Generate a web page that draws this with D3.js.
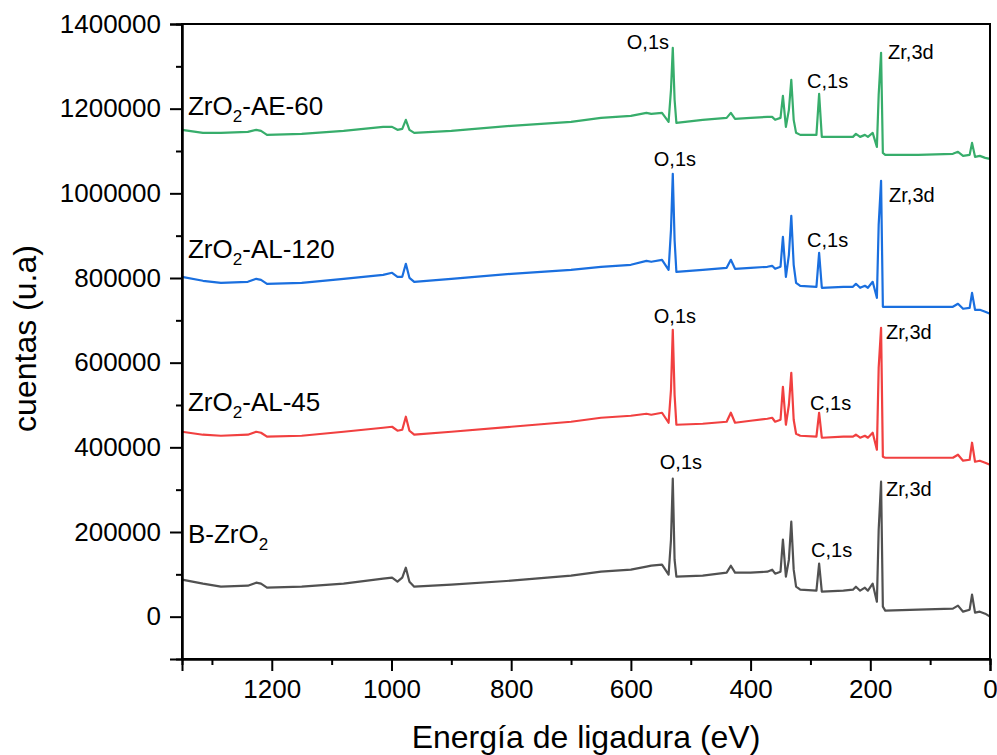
<!DOCTYPE html>
<html>
<head>
<meta charset="utf-8">
<script src="https://cdn.jsdelivr.net/npm/d3@7"></script>
<style>
  html, body { margin: 0; padding: 0; background: #fff; }
  svg { display: block; font-family: "Liberation Sans", Arial, sans-serif; }
</style>
</head>
<body>
<svg id="chart" width="997" height="755"></svg>
<script>
// Binding energy grid (eV) shared by all survey spectra
const energy = [1350, 1315, 1285, 1240, 1226, 1218, 1208, 1150, 1080, 1014, 999, 990, 982, 976, 970, 962,
  900, 800, 700, 650, 600, 574, 566, 548, 537, 533, 530, 527, 524, 480, 440, 433, 426, 400, 372, 364,
  359, 350, 346, 341, 336, 332, 328, 324, 317, 290, 285.5, 281, 245, 229, 224, 217, 209, 204, 196, 189,
  186, 182, 179, 175, 120, 62, 53.5, 45, 34, 30, 25, 17, 8, 0];

// Counts for each sample
const countsB = [87400, 77900, 70800, 73200, 80300, 77900, 68500, 70800, 77900, 89700, 92100, 82600, 92100, 115700, 82600, 70800,
  75600, 85000, 96800, 106300, 111000, 118100, 120400, 122800, 99200, 181800, 325900, 134600, 94500, 96800, 103900, 120400, 103900, 103900, 106300, 111000,
  101500, 106300, 181800, 94500, 134600, 224300, 111000, 70800, 63800, 61400, 125100, 59000, 61400, 63800, 70800, 61400, 68500, 61400, 77900, 35400,
  205400, 318800, 23600, 14200, 16500, 18900, 26000, 11800, 16500, 51900, 9400, 11800, 7100, 0];

const countsAL45 = [436800, 429800, 427400, 429800, 436800, 434500, 425100, 427400, 436800, 446300, 448600, 439200, 441600, 472300, 439200, 429800,
  436800, 448600, 460500, 469900, 474600, 479300, 477000, 481700, 458100, 536000, 677700, 524200, 453400, 455700, 460500, 481700, 458100, 462800, 467500, 469900,
  460500, 465200, 543100, 453400, 500600, 576200, 465200, 432100, 427400, 425100, 481700, 422700, 425100, 425100, 429800, 422700, 427400, 422700, 434500, 394300,
  588000, 682400, 377800, 375400, 375400, 375400, 382500, 368400, 370700, 410900, 366000, 368400, 363600, 358900];

const countsAL120 = [802800, 793400, 788700, 791000, 798100, 795700, 786300, 788700, 798100, 807500, 812300, 802800, 802800, 833500, 800500, 791000,
  798100, 809900, 819400, 826500, 831200, 840600, 838300, 843000, 819400, 913800, 1046000, 890200, 814600, 819400, 824100, 843000, 821700, 824100, 826500, 828800,
  821700, 826500, 897300, 802800, 854800, 946900, 831200, 788700, 781600, 779200, 859500, 776900, 779200, 779200, 786300, 776900, 781600, 776900, 791000, 753200,
  925600, 1029500, 732000, 732000, 732000, 732000, 739100, 727300, 729600, 765000, 724900, 724900, 720200, 715500];

const countsAE60 = [1150000, 1142900, 1142900, 1145200, 1150000, 1147600, 1138100, 1140500, 1147600, 1157000, 1157000, 1150000, 1152300, 1173600, 1150000, 1142900,
  1147600, 1159400, 1168800, 1178300, 1183000, 1190100, 1187700, 1190100, 1168800, 1244400, 1343600, 1221700, 1166500, 1173600, 1178300, 1190100, 1175900, 1178300, 1180600, 1180600,
  1173600, 1178300, 1230200, 1157000, 1197200, 1268000, 1173600, 1142900, 1138100, 1138100, 1235000, 1133400, 1133400, 1133400, 1140500, 1133400, 1138100, 1133400, 1142900, 1109800,
  1232600, 1331800, 1095600, 1090900, 1090900, 1093300, 1098000, 1088500, 1090900, 1119200, 1086200, 1088500, 1083800, 1081400];

// Tick values
const xMajorTicks = [1200, 1000, 800, 600, 400, 200, 0];
const xMinorTicks = [1300, 1100, 900, 700, 500, 300, 100];
const yMajorTicks = [0, 200000, 400000, 600000, 800000, 1000000, 1200000, 1400000];
const yMinorTicks = [100000, 300000, 500000, 700000, 900000, 1100000, 1300000];

// Sample names, colours and where their name label sits (eV, counts)
const samples = [
  { name: "B-ZrO", sub: "2", suffix: "",       values: countsB,     color: "#515151", labelAt: [1340, 174700] },
  { name: "ZrO",   sub: "2", suffix: "-AL-45",  values: countsAL45,  color: "#F14040", labelAt: [1340, 486400] },
  { name: "ZrO",   sub: "2", suffix: "-AL-120", values: countsAL120, color: "#1A6FDF", labelAt: [1340, 847700] },
  { name: "ZrO",   sub: "2", suffix: "-AE-60",  values: countsAE60,  color: "#37AD6B", labelAt: [1340, 1185400] }
];

// Peak annotations: peak energy and text offset (px) from the peak top, per sample
const peakNames = ["O,1s", "C,1s", "Zr,3d"];
const peakEnergies = [530, 285.5, 182];
const peakOffsets = [
  [[-13, -10], [-8, -7], [5, 14]],
  [[-19, -7], [-9, -3], [5, 11]],
  [[-19, -8], [-12, -6], [8, 21]],
  [[-46, 1], [-12, -6], [7, 6]]
];

const svg = d3.select("#chart");
const margin = { left: 182, right: 7, top: 24, bottom: 96 };
const W = 997, H = 755;

const x = d3.scaleLinear().domain([1350, 0]).range([margin.left, W - margin.right]);
const y = d3.scaleLinear().domain([-100000, 1400000]).range([H - margin.bottom, margin.top]);

const tickFont = 26;

// Spectra
const line = d3.line()
  .x((d, i) => x(energy[i]))
  .y(d => y(d));

const plot = svg.append("g");
samples.forEach(s => {
  plot.append("path")
    .datum(s.values)
    .attr("fill", "none")
    .attr("stroke", s.color)
    .attr("stroke-width", 2.2)
    .attr("stroke-linejoin", "round")
    .attr("d", line);
});

// Frame
svg.append("rect")
  .attr("x", x(1350)).attr("y", y(1400000))
  .attr("width", x(0) - x(1350)).attr("height", y(-100000) - y(1400000))
  .attr("fill", "none").attr("stroke", "#000").attr("stroke-width", 2);

// Bottom axis
svg.append("g")
  .attr("transform", `translate(0,${y(-100000)})`)
  .call(d3.axisBottom(x).tickValues(xMajorTicks).tickSize(12).tickPadding(9).tickFormat(d3.format("d")));
svg.append("g")
  .attr("transform", `translate(0,${y(-100000)})`)
  .call(d3.axisBottom(x).tickValues(xMinorTicks).tickSize(6).tickFormat(""));

// Left axis
svg.append("g")
  .attr("transform", `translate(${x(1350)},0)`)
  .call(d3.axisLeft(y).tickValues(yMajorTicks).tickSize(12).tickPadding(9).tickFormat(d3.format("d")));
svg.append("g")
  .attr("transform", `translate(${x(1350)},0)`)
  .call(d3.axisLeft(y).tickValues(yMinorTicks).tickSize(6).tickFormat(""));

svg.selectAll(".domain").attr("stroke", "#000").attr("stroke-width", 2);
svg.selectAll(".tick line").attr("stroke", "#000").attr("stroke-width", 2);
svg.selectAll(".tick text")
  .attr("fill", "#000")
  .style("font-size", tickFont + "px")
  .style("font-family", "'Liberation Sans', Arial, sans-serif");

// Axis titles
svg.append("text")
  .attr("x", (x(1350) + x(0)) / 2)
  .attr("y", 748)
  .attr("text-anchor", "middle")
  .style("font-size", "32px")
  .text("Energía de ligadura (eV)");

svg.append("text")
  .attr("transform", `translate(36,${(y(-100000) + y(1400000)) / 2 - 3}) rotate(-90)`)
  .attr("text-anchor", "middle")
  .style("font-size", "32px")
  .text("cuentas (u.a)");

// Sample name labels
samples.forEach(s => {
  const t = svg.append("text")
    .attr("x", x(s.labelAt[0]))
    .attr("y", y(s.labelAt[1]))
    .style("font-size", "26px");
  t.append("tspan").text(s.name);
  t.append("tspan").attr("dy", 7).style("font-size", "17px").text(s.sub);
  if (s.suffix) t.append("tspan").attr("dy", -7).text(s.suffix);
});

// Peak labels
samples.forEach((s, si) => {
  peakEnergies.forEach((e, pi) => {
    const idx = energy.indexOf(e);
    const px = x(e), py = y(s.values[idx]);
    svg.append("text")
      .attr("x", px + peakOffsets[si][pi][0])
      .attr("y", py + peakOffsets[si][pi][1])
      .style("font-size", "20px")
      .text(peakNames[pi]);
  });
});
</script>
</body>
</html>
